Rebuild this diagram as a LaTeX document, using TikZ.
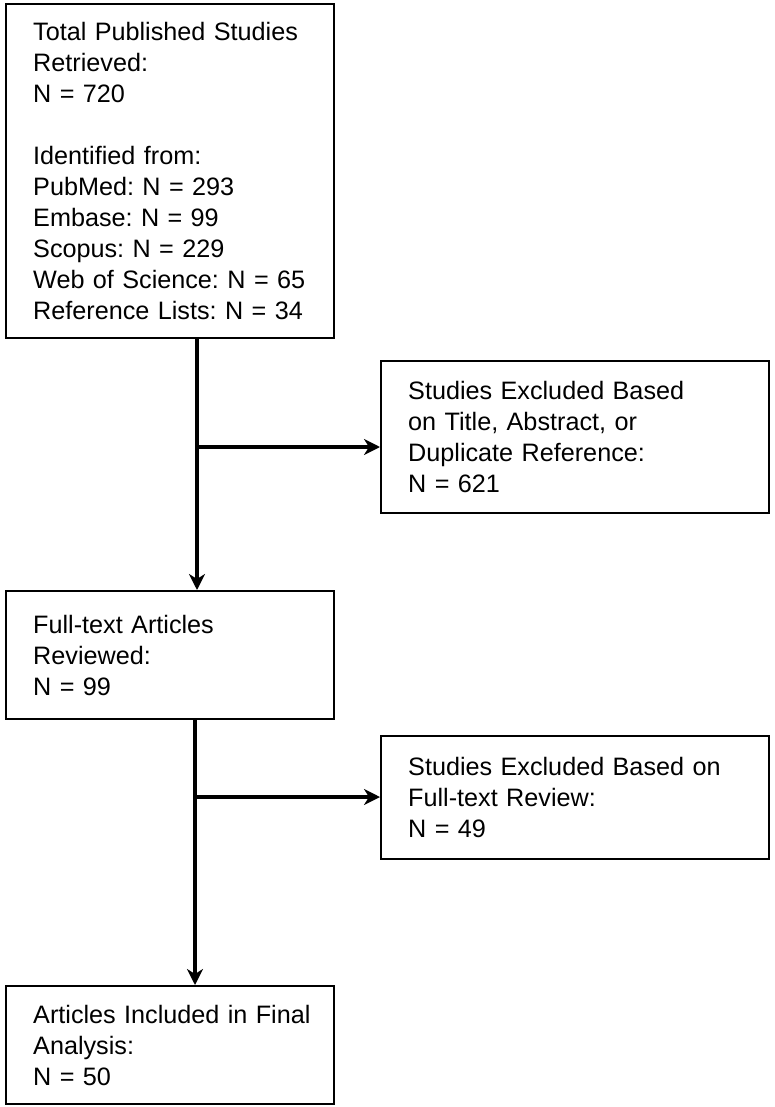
\documentclass[tikz,border=0pt]{standalone}
\usepackage{fontspec}
\setmainfont{Liberation Sans}
\usetikzlibrary{arrows.meta}
\hyphenpenalty=10000
\frenchspacing

\tikzset{
  stagebox/.style={draw, line width=2.4pt, anchor=north west, align=left,
    inner xsep=27pt, inner ysep=0pt,
    font=\fontsize{25.2}{31}\selectfont},
  flowline/.style={line width=3.4pt},
  flowarrow/.style={line width=3.4pt, -{Stealth[length=16pt,width=16pt,inset=5pt]}}
}

\begin{document}
\begin{tikzpicture}[x=1pt, y={(0pt,-1pt)}]
  \useasboundingbox (0,0) rectangle (774,1107);

  \node[stagebox, text width=274pt, minimum height=334pt] (total) at (5,3)
    {Total Published Studies\\Retrieved:\\N = 720\\[31pt]Identified from:\\PubMed: N = 293\\Embase: N = 99\\Scopus: N = 229\\Web of Science: N = 65\\Reference Lists: N = 34};
  \node[stagebox, text width=334pt, minimum height=152pt] (excl1) at (380,360)
    {Studies Excluded Based\\on Title, Abstract, or\\Duplicate Reference:\\N = 621};
  \node[stagebox, text width=274pt, minimum height=128pt] (fulltext) at (5,590)
    {Full-text Articles\\Reviewed:\\N = 99};
  \node[stagebox, text width=334pt, minimum height=123pt] (excl2) at (380,735)
    {Studies Excluded Based on\\Full-text Review:\\N = 49};
  \node[stagebox, text width=274pt, minimum height=118pt] (final) at (5,985)
    {\mbox{Articles Included in Final}\\Analysis:\\N = 50};

  \coordinate (split1) at (197,447);
  \coordinate (split2) at (195,797);

  \draw[flowarrow] (split1 |- total.south) -- (split1 |- fulltext.north);
  \draw[flowarrow] (split1) -- (split1 -| excl1.west);
  \draw[flowarrow] (split2 |- fulltext.south) -- (split2 |- final.north);
  \draw[flowarrow] (split2) -- (split2 -| excl2.west);
\end{tikzpicture}
\end{document}
